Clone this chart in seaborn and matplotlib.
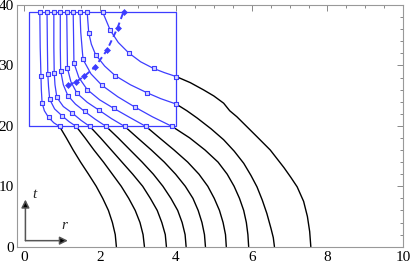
import numpy as np
import pandas as pd
import matplotlib
matplotlib.use("Agg")
import matplotlib.pyplot as plt
from matplotlib.ticker import MultipleLocator
import seaborn as sns

sns.set_theme(style="white")
plt.rcParams['font.family'] = ['Liberation Serif', 'DejaVu Serif']

# ---- black characteristic curves (r, t) ----
t_std = [19.9, 18, 16, 14, 12, 10, 8, 6, 4, 2, 0]
black_r = [
    [0.93, 1.11, 1.29, 1.485, 1.695, 1.898, 2.07, 2.22, 2.325, 2.40, 2.43],
    [1.37, 1.604, 1.838, 2.09, 2.324, 2.558, 2.756, 2.927, 3.053, 3.134, 3.17],
    [1.73, 2.013, 2.296, 2.578, 2.861, 3.124, 3.326, 3.508, 3.629, 3.72, 3.75],
    [2.16, 2.477, 2.793, 3.11, 3.405, 3.658, 3.869, 4.048, 4.165, 4.243, 4.27],
    [2.65, 2.991, 3.353, 3.694, 3.992, 4.248, 4.45, 4.588, 4.688, 4.754, 4.78],
    [3.21, 3.57, 3.952, 4.312, 4.609, 4.842, 5.012, 5.15, 5.245, 5.309, 5.33],
    [3.90, 4.365, 4.769, 5.112, 5.354, 5.536, 5.678, 5.789, 5.859, 5.90, 5.92],
    [4.01, 4.29, 4.56, 4.93, 5.26, 5.54, 5.79, 5.98, 6.14, 6.28, 6.40, 6.51, 6.57, 6.60],
    [4.01, 4.38, 4.73, 5.00, 5.26, 5.42, 5.61, 6.14, 6.49, 6.85, 7.03, 7.20, 7.37, 7.47,
     7.53, 7.56],
]
black_t = [
    t_std, t_std, t_std, t_std, t_std, t_std, t_std,
    [23.6, 22.5, 21.3, 19.5, 17.7, 15.8, 13.8, 11.8, 9.9, 7.7, 5.5, 3.0, 1.5, 0.0],
    [28.15, 27.15, 25.95, 24.95, 23.75, 22.5, 21.5, 18.2, 16.0, 13.1, 11.5, 9.9, 7.5, 5.0,
     2.5, 0.0],
]

# ---- blue curves inside the box: marker points ----
blue_mr = [
    [0.41, 0.44, 0.47, 0.64, 0.93],
    [0.60, 0.62, 0.67, 0.99, 1.37],
    [0.78, 0.79, 0.86, 1.27, 1.73],
    [0.95, 0.96, 1.15, 1.59, 2.16],
    [1.12, 1.14, 1.39, 1.97, 2.65],
    [1.29, 1.31, 1.66, 2.36, 3.21],
    [1.47, 1.55, 2.05, 2.92, 3.90],
    [1.66, 1.70, 1.88, 2.40, 3.23, 4.01],
    [2.07, 2.27, 2.75, 3.41, 4.01],
]
blue_mt = [
    [38.8, 28.2, 23.8, 21.4, 19.9],
    [38.8, 28.6, 24.4, 21.7, 19.9],
    [38.8, 28.8, 24.7, 22.1, 19.9],
    [38.8, 29.1, 25.0, 22.4, 19.9],
    [38.8, 29.5, 25.4, 22.6, 19.9],
    [38.8, 30.4, 26.0, 22.9, 19.9],
    [38.8, 31.0, 26.7, 23.1, 19.9],
    [38.8, 35.4, 31.8, 28.3, 25.5, 23.6],
    [38.8, 35.8, 32.1, 29.5, 28.15],
]
# blue curves: line points (markers plus intermediate readings)
blue_lr = [
    [0.41, 0.42, 0.44, 0.45, 0.47, 0.53, 0.64, 0.78, 0.93],
    [0.60, 0.61, 0.62, 0.64, 0.67, 0.80, 0.99, 1.18, 1.37],
    [0.78, 0.78, 0.79, 0.81, 0.86, 1.03, 1.27, 1.50, 1.73],
    [0.95, 0.95, 0.96, 1.03, 1.15, 1.35, 1.59, 1.87, 2.16],
    [1.12, 1.13, 1.14, 1.23, 1.39, 1.66, 1.97, 2.30, 2.65],
    [1.29, 1.30, 1.31, 1.44, 1.66, 1.99, 2.36, 2.78, 3.21],
    [1.47, 1.49, 1.55, 1.76, 2.05, 2.47, 2.92, 3.38, 3.90],
    [1.66, 1.70, 1.77, 1.88, 2.12, 2.40, 2.80, 3.23, 3.60, 4.01],
    [2.07, 2.27, 2.48, 2.75, 3.07, 3.41, 3.70, 4.01],
]
blue_lt = [
    [38.8, 33.0, 28.2, 26.0, 23.8, 22.5, 21.4, 20.5, 19.9],
    [38.8, 33.0, 28.6, 26.5, 24.4, 22.8, 21.7, 20.7, 19.9],
    [38.8, 33.0, 28.8, 26.8, 24.7, 23.2, 22.1, 20.9, 19.9],
    [38.8, 33.0, 29.1, 26.8, 25.0, 23.6, 22.4, 21.1, 19.9],
    [38.8, 34.0, 29.5, 27.3, 25.4, 23.9, 22.6, 21.2, 19.9],
    [38.8, 35.0, 30.4, 28.0, 26.0, 24.3, 22.9, 21.4, 19.9],
    [38.8, 35.5, 31.0, 28.6, 26.7, 24.8, 23.1, 21.5, 19.9],
    [38.8, 35.4, 33.5, 31.8, 29.9, 28.3, 26.8, 25.5, 24.5, 23.6],
    [38.8, 35.8, 33.8, 32.1, 30.6, 29.5, 28.8, 28.15],
]

# ---- dashed curve with diamonds ----
dash_r = [1.16, 1.37, 1.58, 1.86, 2.18, 2.46, 2.62]
dash_t = [26.7, 27.3, 28.2, 29.7, 32.5, 36.2, 38.9]

# ---- box ----
box_r = [0.13, 4.01, 4.01, 0.13, 0.13]
box_t = [19.9, 19.9, 38.9, 38.9, 19.9]

x_ticks = [0, 2, 4, 6, 8, 10]
y_ticks = [0, 10, 20, 30, 40]

BLUE = '#3d3dff'

fig = plt.figure(figsize=(4.11, 2.64), dpi=100)
ax = fig.add_axes([16.7 / 411, 17.3 / 264, (403.3 - 16.7) / 411, (246.7 - 5) / 264])

for r, t in zip(black_r, black_t):
    df = pd.DataFrame({'r': r, 't': t})
    sns.lineplot(data=df, x='r', y='t', sort=False, estimator=None,
                 color='black', lw=1.0, ax=ax)

df = pd.DataFrame({'r': box_r, 't': box_t})
sns.lineplot(data=df, x='r', y='t', sort=False, estimator=None, color=BLUE, lw=0.9, ax=ax)

for r, t in zip(blue_lr, blue_lt):
    df = pd.DataFrame({'r': r, 't': t})
    sns.lineplot(data=df, x='r', y='t', sort=False, estimator=None, color=BLUE, lw=0.9, ax=ax)
for r, t in zip(blue_mr, blue_mt):
    df = pd.DataFrame({'r': r, 't': t})
    sns.scatterplot(data=df, x='r', y='t', marker='s', s=10, facecolor='#d4d4ff',
                    edgecolor=BLUE, linewidth=0.8, ax=ax, zorder=5)

df = pd.DataFrame({'r': dash_r, 't': dash_t})
sns.lineplot(data=df, x='r', y='t', sort=False, estimator=None, color=BLUE, lw=1.4,
             dashes=False, ax=ax, linestyle=(0, (3, 2)))
sns.scatterplot(data=df, x='r', y='t', marker='D', s=9, color=BLUE, edgecolor=BLUE,
                linewidth=0.5, ax=ax, zorder=6)

# small orientation arrows
ax.annotate('', xy=(0.03, 7.8), xytext=(0.03, 1.0),
            arrowprops=dict(arrowstyle='-|>', color='#555555', lw=1.1,
                            mutation_scale=12, shrinkA=0, shrinkB=0, fc='black'))
ax.annotate('', xy=(1.15, 1.0), xytext=(0.03, 1.0),
            arrowprops=dict(arrowstyle='-|>', color='#555555', lw=1.1,
                            mutation_scale=12, shrinkA=0, shrinkB=0, fc='black'))
ax.text(0.27, 8.7, 't', fontstyle='italic', fontsize=11, ha='center', va='center')
ax.text(1.05, 3.5, 'r', fontstyle='italic', fontsize=11, ha='center', va='center')

ax.set_xlim(-0.2, 10.0)
ax.set_ylim(0, 40)
ax.set_xticks(x_ticks)
ax.set_yticks(y_ticks)
ax.set_xticklabels([str(v) for v in x_ticks])
ax.set_yticklabels([str(v) for v in y_ticks])
ax.xaxis.set_minor_locator(MultipleLocator(0.5))
ax.yaxis.set_minor_locator(MultipleLocator(2))
ax.tick_params(which='both', direction='in', top=True, right=True, color='#888888',
               width=0.7, labelsize=11, labelcolor='black')
ax.tick_params(which='major', length=4)
ax.tick_params(which='minor', length=2)
ax.tick_params(axis='x', pad=3)
ax.tick_params(axis='y', pad=2)
ax.set_xlabel('')
ax.set_ylabel('')
for s in ax.spines.values():
    s.set_color('#999999')
    s.set_linewidth(0.8)

fig.savefig('out.png', dpi=100)
